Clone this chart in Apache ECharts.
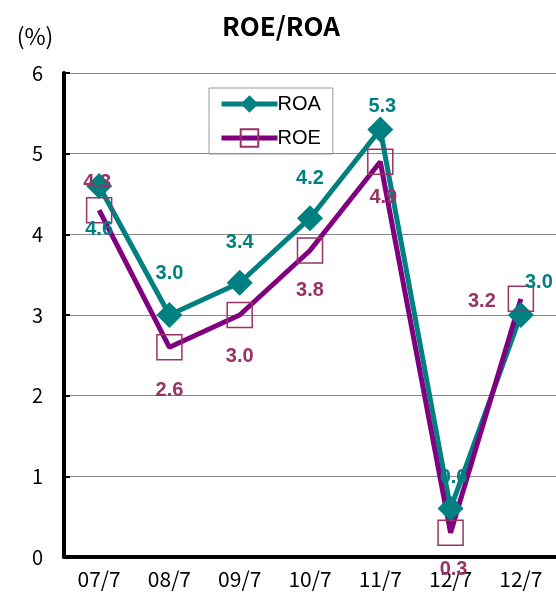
<!DOCTYPE html>
<html>
<head>
	<meta charset="utf-8">
	<title>ROE/ROA</title>
	<script src="https://cdn.jsdelivr.net/npm/echarts@6/dist/echarts.min.js"></script>
	<style>
		html, body { margin: 0; padding: 0; background: #fff; }
		#main { width: 556px; height: 596px; }
	</style>
</head>
<body>
<div id="main"></div>
<script>
	var categories = ['07/7', '08/7', '09/7', '10/7', '11/7', '12/7', '12/7'];
	var roa = [4.6, 3.0, 3.4, 4.2, 5.3, 0.6, 3.0];
	var roe = [4.3, 2.6, 3.0, 3.8, 4.9, 0.3, 3.2];

	// label offsets (px) from each point, as placed in the original
	var roaLabelOffset = [[0, 44], [0, -42], [0, -40], [0, -40], [2, -23], [3, -31], [18, -33]];
	var roeLabelOffset = [[-2, -28], [0, 43], [0, 41], [0, 40], [3, 36], [3, 37], [-39, 3]];

	var labelFont = 'Liberation Sans, Arial, sans-serif';
	var axisFont = '"Noto Sans CJK JP", sans-serif';

	function withLabels(values, offsets) {
		return values.map(function (v, i) {
			return { value: v, label: { offset: offsets[i] } };
		});
	}

	var myChart = echarts.init(document.getElementById('main'));
	var option = {
		animation: false,
		graphic: [{
			type: 'text',
			x: 281,
			y: 26,
			style: {
				text: 'ROE/ROA', font: 'bold 26px "Noto Sans CJK JP"', fill: '#000',
				align: 'center', verticalAlign: 'middle'
			}
		}, {
			type: 'text',
			x: 35,
			y: 36,
			style: {
				text: '(%)', font: '23px "Noto Sans CJK JP"', fill: '#000',
				align: 'center', verticalAlign: 'middle'
			}
		}],
		legend: {
			orient: 'vertical',
			left: 209,
			top: 88,
			padding: [6, 12, 6, 10],
			itemGap: 14,
			itemWidth: 56,
			itemHeight: 22,
			borderColor: '#999',
			borderWidth: 1,
			lineStyle: { width: 5 },
			textStyle: { fontFamily: labelFont, fontSize: 20, color: '#000', padding: [0, 0, 0, -5] },
			data: ['ROA', 'ROE']
		},
		grid: { left: 64, top: 73, width: 499, height: 484 },
		xAxis: {
			type: 'category',
			data: categories,
			boundaryGap: true,
			axisLine: { lineStyle: { color: '#000', width: 4 } },
			axisTick: { inside: true, length: 6, lineStyle: { color: '#000', width: 2 } },
			axisLabel: { margin: 12, fontFamily: axisFont, fontSize: 21, color: '#000' }
		},
		yAxis: {
			type: 'value',
			min: 0,
			max: 6,
			interval: 1,
			axisLine: { show: true, lineStyle: { color: '#000', width: 4 } },
			axisTick: { show: true, inside: true, length: 6, lineStyle: { color: '#000', width: 2 } },
			axisLabel: { margin: 21, fontFamily: axisFont, fontSize: 20, color: '#000' },
			splitLine: { lineStyle: { color: '#888', width: 1 } }
		},
		series: [
			{
				name: 'ROA',
				type: 'line',
				data: withLabels(roa, roaLabelOffset),
				symbol: 'diamond',
				symbolSize: 26,
				lineStyle: { color: '#008080', width: 5 },
				itemStyle: { color: '#008080' },
				label: {
					show: true,
					position: 'inside',
					formatter: function (p) { return p.value.toFixed(1); },
					fontFamily: labelFont,
					fontSize: 20,
					fontWeight: 'bold',
					color: '#008080'
				}
			},
			{
				name: 'ROE',
				type: 'line',
				data: withLabels(roe, roeLabelOffset),
				symbol: 'rect',
				symbolSize: 25,
				lineStyle: { color: '#800080', width: 5 },
				itemStyle: { color: 'transparent', borderColor: '#993366', borderWidth: 1.5 },
				label: {
					show: true,
					position: 'inside',
					formatter: function (p) { return p.value.toFixed(1); },
					fontFamily: labelFont,
					fontSize: 20,
					fontWeight: 'bold',
					color: '#993366'
				}
			}
		]
	};

	option && myChart.setOption(option);
</script>
</body>
</html>
